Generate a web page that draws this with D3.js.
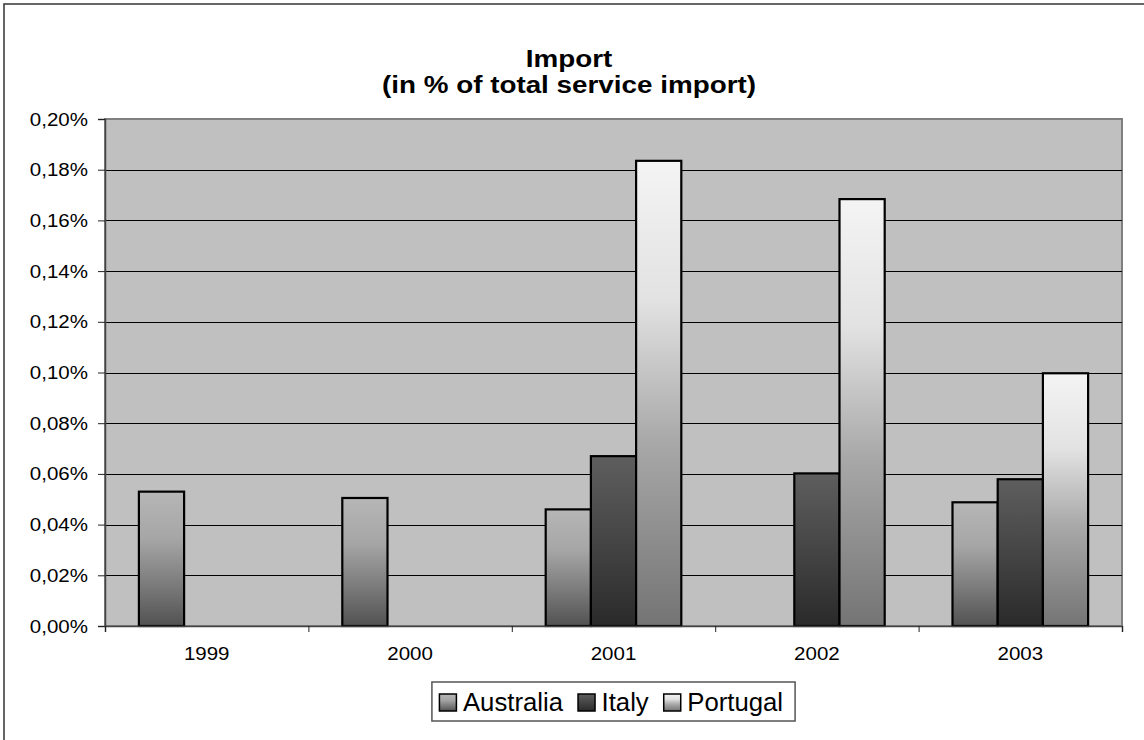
<!DOCTYPE html>
<html>
<head>
<meta charset="utf-8">
<script src="https://cdn.jsdelivr.net/npm/d3@7"></script>
<style>
  html, body { margin: 0; padding: 0; background: #fff; }
  svg { display: block; }
  text { font-family: "Liberation Sans", Arial, Helvetica, sans-serif; fill: #000; }
</style>
</head>
<body>
<svg id="chart" width="1144" height="740"></svg>
<script>
// ---- data ----
const categories = ["1999", "2000", "2001", "2002", "2003"];
const seriesNames = ["Australia", "Italy", "Portugal"];
const australia = [0.0530, 0.0505, 0.0460, null, 0.0488];
const italy     = [null, null, 0.0670, 0.0602, 0.0579];
const portugal  = [null, null, 0.1835, 0.1684, 0.0997];
const yTickValues = [0, 0.02, 0.04, 0.06, 0.08, 0.10, 0.12, 0.14, 0.16, 0.18, 0.20];
const titleLines = ["Import", "(in % of total service import)"];

const seriesValues = [australia, italy, portugal];

// ---- layout ----
const W = 1144, H = 740;
const plot = { left: 105, right: 1122, top: 119, bottom: 626 };

const svg = d3.select("#chart");

function stretch(sel, sx) {
  sel.each(function () {
    const t = d3.select(this);
    const x = +t.attr("x") || 0;
    const y = +t.attr("y") || 0;
    t.attr("transform", `translate(${x},${y}) scale(${sx},1) translate(${-x},${-y})`);
  });
}

// gradients
const defs = svg.append("defs");
const gradStops = [
  [[0, "#b6b6b6"], [0.35, "#a6a6a6"], [0.7, "#7a7a7a"], [1, "#525252"]],
  [[0, "#5e5e5e"], [0.5, "#454545"], [1, "#2a2a2a"]],
  [[0, "#f4f4f4"], [0.3, "#e2e2e2"], [0.6, "#a9a9a9"], [1, "#747474"]]
];
gradStops.forEach((stops, i) => {
  const g = defs.append("linearGradient").attr("id", "grad" + i)
    .attr("x1", 0).attr("y1", 0).attr("x2", 0).attr("y2", 1);
  stops.forEach(s => g.append("stop").attr("offset", s[0]).attr("stop-color", s[1]));
});

// outer chart border (extends beyond the visible frame on right/bottom)
svg.append("rect").attr("x", 4).attr("y", 4).attr("width", 1160).attr("height", 760)
  .attr("fill", "#fff").attr("stroke", "#333").attr("stroke-width", 1.5);

// scales
const x = d3.scaleBand().domain(categories).range([plot.left, plot.right]).padding(0);
const xs = d3.scaleBand().domain(seriesNames).range([0, x.bandwidth()])
  .paddingInner(0).paddingOuter(0.75);
const y = d3.scaleLinear().domain([0, 0.20]).range([plot.bottom, plot.top]);

// plot background
svg.append("rect")
  .attr("x", plot.left).attr("y", plot.top)
  .attr("width", plot.right - plot.left).attr("height", plot.bottom - plot.top)
  .attr("fill", "#c0c0c0").attr("stroke", "#808080").attr("stroke-width", 2);

// gridlines
svg.append("g").selectAll("line")
  .data(yTickValues.filter(v => v > 0 && v < 0.20))
  .join("line")
  .attr("x1", plot.left).attr("x2", plot.right)
  .attr("y1", d => Math.round(y(d)) + 0.5).attr("y2", d => Math.round(y(d)) + 0.5)
  .attr("stroke", "#000").attr("stroke-width", 1);

// bars
const barData = [];
categories.forEach((c, ci) => {
  seriesNames.forEach((s, si) => {
    const v = seriesValues[si][ci];
    if (v != null) barData.push({ c, s, si, v });
  });
});
svg.append("g").selectAll("rect")
  .data(barData)
  .join("rect")
  .attr("x", d => x(d.c) + xs(d.s))
  .attr("y", d => y(d.v))
  .attr("width", xs.bandwidth())
  .attr("height", d => y(0) - y(d.v))
  .attr("fill", d => `url(#grad${d.si})`)
  .attr("stroke", "#000").attr("stroke-width", 2.2);

// y axis
const fmt = v => d3.format(".2f")(v).replace(".", ",") + "%";
const yAxis = svg.append("g").attr("transform", `translate(${plot.left},0)`)
  .call(d3.axisLeft(y).tickValues(yTickValues).tickFormat(fmt).tickSize(7).tickPadding(10));
yAxis.select(".domain").attr("stroke", "#444").attr("stroke-width", 1.5);
yAxis.selectAll(".tick line").attr("stroke", "#222");
yAxis.selectAll("text").attr("font-size", 19).attr("font-family", "Liberation Sans, Arial, sans-serif");
stretch(yAxis.selectAll("text"), 1.08);

// x axis: boundary ticks
const xb = d3.scaleLinear().domain([0, categories.length]).range([plot.left, plot.right]);
const xTickAxis = svg.append("g").attr("transform", `translate(0,${plot.bottom})`)
  .call(d3.axisBottom(xb).tickValues(d3.range(categories.length + 1)).tickFormat("").tickSize(6));
xTickAxis.select(".domain").attr("stroke", "#444").attr("stroke-width", 1.5);
xTickAxis.selectAll(".tick line").attr("stroke", "#222");

// x axis: labels
const xLabelAxis = svg.append("g").attr("transform", `translate(0,${plot.bottom})`)
  .call(d3.axisBottom(x).tickSize(0).tickPadding(21));
xLabelAxis.select(".domain").remove();
xLabelAxis.selectAll("text").attr("font-size", 19).attr("font-family", "Liberation Sans, Arial, sans-serif");
stretch(xLabelAxis.selectAll("text"), 1.08);

// title
const titleX = 569;
const tt = svg.append("g").selectAll("text")
  .data(titleLines)
  .join("text")
  .attr("x", titleX)
  .attr("y", (d, i) => 67 + i * 26.5)
  .attr("text-anchor", "middle")
  .attr("font-weight", "bold")
  .attr("font-size", 23)
  .text(d => d);
stretch(tt, 1.21);

// legend
const legend = svg.append("g");
const legendBox = legend.append("rect")
  .attr("fill", "#fff").attr("stroke", "#555").attr("stroke-width", 1.5);
const legSx = 1.03, sw = 17, gapSwText = 6.5, gapItem = 15, padL = 7.5, padR = 12;
let cx = 0;
const items = [];
seriesNames.forEach((name, i) => {
  const g = legend.append("g");
  g.append("rect").attr("x", cx).attr("y", 694).attr("width", sw).attr("height", sw)
    .attr("fill", `url(#grad${i})`).attr("stroke", "#000").attr("stroke-width", 1.5);
  const t = g.append("text").attr("x", cx + sw + gapSwText).attr("y", 711)
    .attr("font-size", 25).text(name);
  stretch(t, legSx);
  const w = t.node().getComputedTextLength() * legSx;
  cx += sw + gapSwText + w + gapItem;
  items.push(g);
});
const contentW = cx - gapItem;
const boxW = padL + contentW + padR;
const boxX = (plot.left + plot.right) / 2 - boxW / 2;
legendBox.attr("x", boxX).attr("y", 682).attr("width", boxW).attr("height", 39);
items.forEach(g => g.attr("transform", `translate(${boxX + padL},0)`));
</script>
</body>
</html>
